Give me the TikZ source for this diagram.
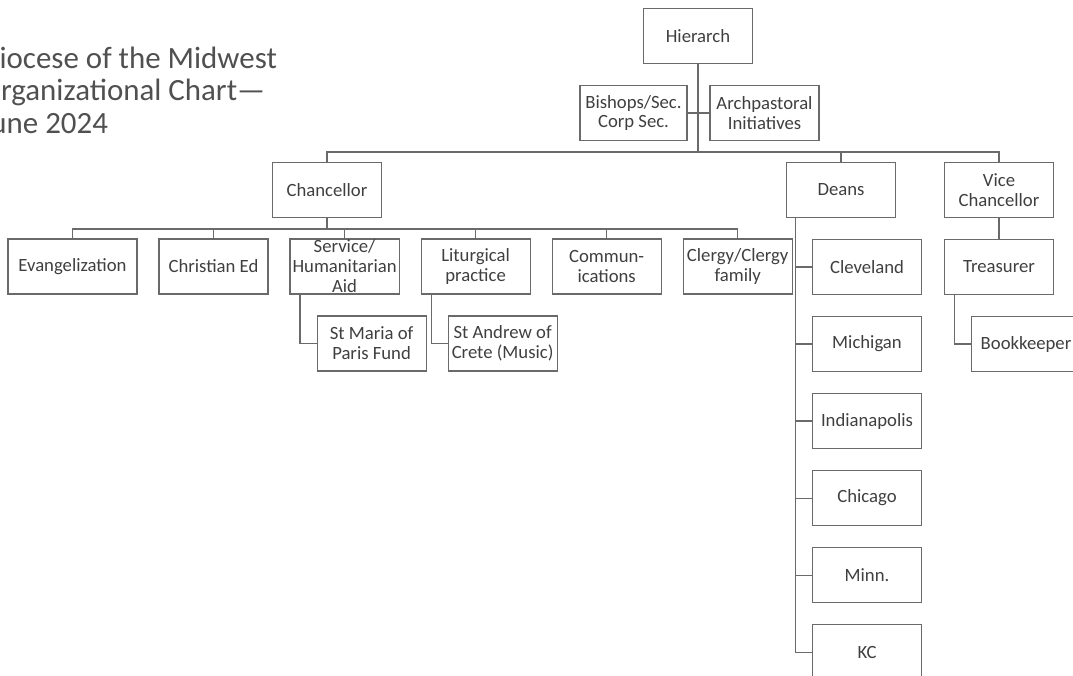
\documentclass[tikz,border=0pt]{standalone}
\usepackage{fontspec}
\setmainfont{Carlito}
\usetikzlibrary{positioning}
\definecolor{linegray}{HTML}{6A6A6A}
\definecolor{textgray}{HTML}{3F3F3F}
\definecolor{titlegray}{HTML}{505050}
\newcommand{\boxfont}{\fontsize{13.3}{14.2}\selectfont}

\begin{document}
\begin{tikzpicture}[x=0.025cm, y=-0.025cm, node distance={0.55cm}, line width=0.8pt, color=linegray,
    unit/.style = {draw=linegray, rectangle, minimum width=2.725cm, minimum height=1.375cm, inner sep=0pt, outer sep=0pt, align=center, text=textgray, font=\boxfont}]
    \useasboundingbox (0,0) rectangle (1073,676);
    \clip (0,0) rectangle (1073,676);
    \node[anchor=north west, inner sep=0pt, align=left, text=titlegray, font=\fontsize{22}{23.4}\selectfont] (title) at (-20,46) {Diocese of the Midwest\\Organizational Chart—\\June 2024};
    % top level
    \node[unit] (hier) at (698,36) {Hierarch};
    \node[unit, minimum width=2.675cm] (bish) at (633.5,113) {Bishops/Sec.\\Corp Sec.};
    \node[unit] (arch) at (764.5,113) {Archpastoral\\Initiatives};
    \node[unit] (chanc) at (327,190) {Chancellor};
    \node[unit] (deans) at (841,190) {Deans};
    \node[unit] (vice) at (999,190) {Vice\\Chancellor};
    % chancellor row
    \node[unit, minimum width=3.225cm] (evang) at (72.5,266.5) {Evangelization};
    \node[unit] (chred) [right=of evang] {Christian Ed};
    \node[unit, label={[align=center, font=\boxfont, text=textgray]center:{Service/\\Humanitarian\\Aid}}] (serv) [right=of chred] {};
    \node[unit] (litur) [right=of serv] {Liturgical\\practice};
    \node[unit] (comm) [right=of litur] {Commun-\\ications};
    \node[unit] (clergy) [right=of comm] {Clergy/Clergy\\family};
    \node[unit] (maria) [below=of serv, xshift=0.675cm] {St Maria of\\Paris Fund};
    \node[unit] (andrew) [below=of litur, xshift=0.675cm] {St Andrew of\\Crete (Music)};
    % deans column
    \node[unit] (clev) [below=of deans, xshift=0.65cm] {Cleveland};
    \node[unit] (mich) [below=of clev] {Michigan};
    \node[unit] (indy) [below=of mich] {Indianapolis};
    \node[unit] (chic) [below=of indy] {Chicago};
    \node[unit] (minn) [below=of chic] {Minn.};
    \node[unit] (kc) [below=of minn] {KC};
    % vice chancellor
    \node[unit] (treas) [below=of vice] {Treasurer};
    \node[unit] (bookk) [below=of treas, xshift=0.675cm] {Bookkeeper};
    % connectors
    \coordinate (hbus) at (698,152);
    \coordinate (cbus) at (327,229);
    \draw (hier) -- (hbus);
    \draw (bish) -- (arch);
    \draw (hbus) -| (chanc);
    \draw (hbus) -| (deans);
    \draw (hbus) -| (vice);
    \draw (chanc) -- (cbus);
    \foreach \n in {evang, chred, serv, litur, comm, clergy}
        \draw (cbus) -| (\n);
    \draw ([xshift=0.25cm]serv.south west) |- (maria);
    \draw ([xshift=0.25cm]litur.south west) |- (andrew);
    \foreach \n in {clev, mich, indy, chic, minn, kc}
        \draw ([xshift=0.225cm]deans.south west) |- (\n);
    \draw (vice) -- (treas);
    \draw ([xshift=0.25cm]treas.south west) |- (bookk);
\end{tikzpicture}
\end{document}
